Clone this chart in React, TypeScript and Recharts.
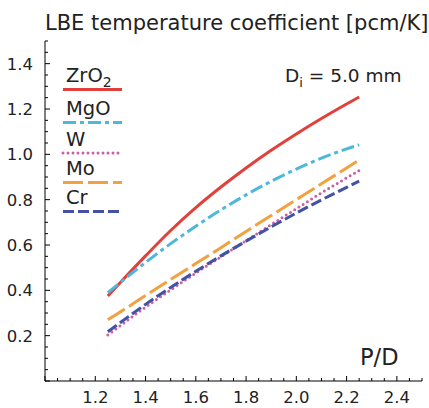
import * as React from "react"
import { LineChart, Line, XAxis, YAxis } from "recharts"

// P/D values where the curves were sampled
const pitchRatio = [1.25, 1.3, 1.4, 1.5, 1.6, 1.7, 1.8, 1.9, 2.0, 2.1, 2.2, 2.25]

// LBE temperature coefficient [pcm/K] per cladding/matrix material
const zro2 = [0.375, 0.435, 0.552, 0.664, 0.765, 0.856, 0.94, 1.018, 1.09, 1.158, 1.222, 1.253]
const mgo = [0.39, 0.435, 0.523, 0.606, 0.683, 0.755, 0.821, 0.881, 0.935, 0.983, 1.024, 1.042]
const w = [0.203, 0.244, 0.326, 0.402, 0.476, 0.548, 0.619, 0.69, 0.76, 0.83, 0.896, 0.928]
const mo = [0.27, 0.305, 0.377, 0.448, 0.518, 0.588, 0.66, 0.73, 0.8, 0.87, 0.94, 0.975]
const cr = [0.217, 0.258, 0.338, 0.413, 0.484, 0.552, 0.617, 0.68, 0.741, 0.799, 0.854, 0.882]

const xLabels = [1.2, 1.4, 1.6, 1.8, 2.0, 2.2, 2.4]
const yLabels = [0.2, 0.4, 0.6, 0.8, 1.0, 1.2, 1.4]

const series = [
  { key: "zro2", values: zro2, label: "ZrO", sub: "2", color: "#e2403a", dash: undefined, cap: "butt" },
  { key: "mgo", values: mgo, label: "MgO", sub: "", color: "#4cb9dc", dash: "13 4 4 4", cap: "butt" },
  { key: "w", values: w, label: "W", sub: "", color: "#c760a8", dash: "0 5", cap: "round" },
  { key: "mo", values: mo, label: "Mo", sub: "", color: "#f0a240", dash: "20 5", cap: "butt" },
  { key: "cr", values: cr, label: "Cr", sub: "", color: "#4352a2", dash: "11 4", cap: "butt" },
]

const data = pitchRatio.map((x, i) => {
  const row: any = { pd: x }
  series.forEach((s) => (row[s.key] = s.values[i]))
  return row
})

const xTicks = Array.from({ length: 31 }, (_, i) => +(1 + i * 0.05).toFixed(2))
const yTicks = Array.from({ length: 31 }, (_, i) => +(i * 0.05).toFixed(2))

const FONT = "'DejaVu Sans', sans-serif"
const isMajor = (v: number) => Math.abs(v * 5 - Math.round(v * 5)) < 1e-6

const BottomTick = ({ x, y, payload }: any) => {
  const v = payload.value
  const show = xLabels.some((l) => Math.abs(l - v) < 1e-6)
  return (
    <g>
      <line x1={x} y1={y} x2={x} y2={y - (isMajor(v) ? 5 : 3)} stroke="#000" />
      {show && (
        <text x={x} y={y + 22} textAnchor="middle" fontSize={16.5} fontFamily={FONT} fill="#222">
          {v.toFixed(1)}
        </text>
      )}
    </g>
  )
}

const TopTick = ({ x, y, payload }: any) => (
  <line x1={x} y1={y} x2={x} y2={y + (isMajor(payload.value) ? 5 : 3)} stroke="#000" />
)

const LeftTick = ({ x, y, payload }: any) => {
  const v = payload.value
  const show = yLabels.some((l) => Math.abs(l - v) < 1e-6)
  return (
    <g>
      <line x1={x} y1={y} x2={x + (isMajor(v) ? 5 : 3)} y2={y} stroke="#000" />
      {show && (
        <text x={x - 12} y={y + 6} textAnchor="end" fontSize={16.5} fontFamily={FONT} fill="#222">
          {v.toFixed(1)}
        </text>
      )}
    </g>
  )
}

const RightTick = ({ x, y, payload }: any) => (
  <line x1={x} y1={y} x2={x - (isMajor(payload.value) ? 5 : 3)} y2={y} stroke="#000" />
)

const legendRows = [89.5, 122.5, 153, 182.5, 211.5]

export default function App() {
  return (
    <div style={{ position: "absolute", left: 0, top: 0, width: 429, height: 408, background: "#fff" }}>
      <LineChart width={429} height={408} data={data} margin={{ top: 41, right: 7, bottom: 0, left: 0 }}>
        <XAxis
          xAxisId="b"
          dataKey="pd"
          type="number"
          domain={[1.0, 2.5]}
          ticks={xTicks}
          interval={0}
          height={27}
          tickSize={0}
          tickMargin={0}
          tick={<BottomTick />}
          axisLine={{ stroke: "#000" }}
          allowDataOverflow
        />
        <XAxis
          xAxisId="t"
          orientation="top"
          dataKey="pd"
          type="number"
          domain={[1.0, 2.5]}
          ticks={xTicks}
          interval={0}
          height={0}
          tickSize={0}
          tickMargin={0}
          tick={<TopTick />}
          axisLine={{ stroke: "#000" }}
          allowDataOverflow
        />
        <YAxis
          yAxisId="l"
          type="number"
          domain={[0, 1.5]}
          ticks={yTicks}
          interval={0}
          width={45}
          tickSize={0}
          tickMargin={0}
          tick={<LeftTick />}
          axisLine={{ stroke: "#000" }}
          allowDataOverflow
        />
        <YAxis
          yAxisId="r"
          orientation="right"
          type="number"
          domain={[0, 1.5]}
          ticks={yTicks}
          interval={0}
          width={0}
          tickSize={0}
          tickMargin={0}
          tick={<RightTick />}
          axisLine={{ stroke: "#000" }}
          allowDataOverflow
        />
        {series.map((s) => (
          <Line
            key={s.key}
            xAxisId="b"
            yAxisId="l"
            type="monotone"
            dataKey={s.key}
            stroke={s.color}
            strokeWidth={3}
            strokeDasharray={s.dash}
            strokeLinecap={s.cap as any}
            dot={false}
            activeDot={false}
            isAnimationActive={false}
          />
        ))}
      </LineChart>
      <svg
        width={429}
        height={408}
        style={{ position: "absolute", left: 0, top: 0, pointerEvents: "none" }}
        fontFamily={FONT}
      >
        <text x={45} y={30} fontSize={21} fill="#222">
          LBE temperature coefficient [pcm/K]
        </text>
        {series.map((s, i) => (
          <g key={s.key}>
            <text x={66} y={legendRows[i] - 7.5} fontSize={19.5} fill="#222">
              {s.label}
              {s.sub && (
                <tspan dy={5} fontSize={14}>
                  {s.sub}
                </tspan>
              )}
            </text>
            <line
              x1={63}
              x2={122}
              y1={legendRows[i]}
              y2={legendRows[i]}
              stroke={s.color}
              strokeWidth={3}
              strokeDasharray={s.dash}
              strokeLinecap={s.cap as any}
            />
          </g>
        ))}
        <text x={285} y={82} fontSize={18.5} fill="#222">
          D<tspan dy={5} fontSize={13}>i</tspan>
          <tspan dy={-5}> = 5.0 mm</tspan>
        </text>
        <text x={360} y={365} fontSize={22.5} fill="#222">
          P/D
        </text>
      </svg>
    </div>
  )
}
